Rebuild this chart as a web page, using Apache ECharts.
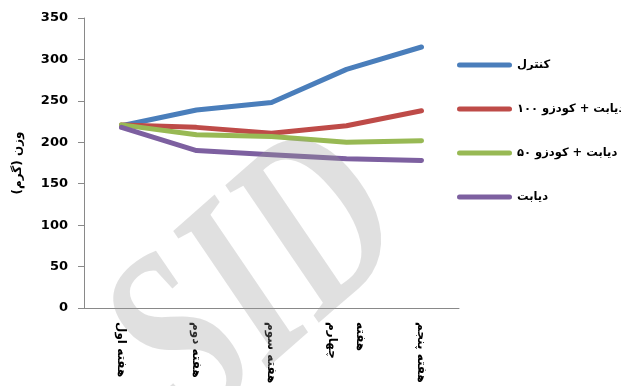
<!DOCTYPE html>
<html>
<head>
<meta charset="utf-8">
<script src="https://cdn.jsdelivr.net/npm/echarts@6/dist/echarts.min.js"></script>
<style>
  html, body { margin: 0; padding: 0; background: #fff; }
  #chart { width: 621px; height: 386px; }
</style>
</head>
<body>
<div id="chart"></div>
<script>
// Weekly body weight (g) per group
const weeks = ['هفته اول', 'هفته دوم', 'هفته سوم', 'هفته\nچهارم', 'هفته پنجم'];
const seriesNames = ['کنترل', 'دیابت + کودزو ۱۰۰', 'دیابت + کودزو ۵۰', 'دیابت'];
const control = [220, 239, 248, 288, 315];
const diabKudzu100 = [221, 218, 211, 220, 238];
const diabKudzu50 = [221, 209, 207, 200, 202];
const diabetic = [218, 190, 185, 180, 178];
const yTicks = { min: 0, max: 350, step: 50 };
const yAxisTitle = 'وزن (گرم)';
const watermarkText = 'SID';

const colors = ['#4A7EBB', '#BE4B48', '#98B954', '#7D60A0'];
const values = [control, diabKudzu100, diabKudzu50, diabetic];

const persianFont = '"DejaVu Sans", sans-serif';
const capsule = 'path://M2.5,0 H52.5 A2.5,2.5 0 0 1 52.5,5 H2.5 A2.5,2.5 0 0 1 2.5,0 Z';

const chart = echarts.init(document.getElementById('chart'), null, { renderer: 'canvas' });

chart.setOption({
  animation: false,
  backgroundColor: '#ffffff',
  grid: { left: 84, right: 162, top: 18, bottom: 78, outerBoundsMode: 'none' },
  legend: {
    orient: 'vertical',
    left: 452,
    top: 52,
    icon: capsule,
    itemWidth: 55,
    itemHeight: 5,
    itemGap: 28,
    textStyle: { fontFamily: persianFont, fontWeight: 'bold', fontSize: 11.5, color: '#000', lineHeight: 16 },
    data: seriesNames
  },
  xAxis: {
    type: 'category',
    data: weeks,
    boundaryGap: true,
    axisLine: { lineStyle: { color: '#898989', width: 1 } },
    axisTick: { show: false },
    axisLabel: {
      rotate: -90,
      margin: 14,
      interval: 0,
      fontFamily: persianFont,
      fontWeight: 'bold',
      fontSize: 12,
      color: '#000',
      lineHeight: 28
    }
  },
  yAxis: {
    type: 'value',
    min: yTicks.min,
    max: yTicks.max,
    interval: yTicks.step,
    name: yAxisTitle,
    nameLocation: 'middle',
    nameGap: 60,
    nameTextStyle: { fontFamily: persianFont, fontWeight: 'bold', fontSize: 12, color: '#000' },
    axisLine: { show: true, lineStyle: { color: '#898989', width: 1 } },
    axisTick: { show: true, inside: false, length: 6, lineStyle: { color: '#898989' } },
    splitLine: { show: false },
    axisLabel: { margin: 16, fontFamily: '"DejaVu Sans", sans-serif', fontWeight: 'bold', fontSize: 13, color: '#000' }
  },
  series: seriesNames.map((name, i) => ({
    name: name,
    type: 'line',
    data: values[i],
    showSymbol: false,
    symbol: 'none',
    color: colors[i],
    lineStyle: { width: 5, color: colors[i], cap: 'round', join: 'round' },
    z: 2 + i
  })),
  // faint rotated, condensed watermark laid over the plot
  graphic: [{
    type: 'text',
    x: 262,
    y: 286,
    rotation: 0.72,
    scaleX: 0.7,
    scaleY: 1,
    z: 100,
    silent: true,
    style: {
      text: watermarkText,
      font: 'italic bold 252px "Liberation Serif", serif',
      fill: '#999999',
      opacity: 0.3,
      align: 'center',
      verticalAlign: 'middle'
    }
  }]
});
</script>
</body>
</html>
